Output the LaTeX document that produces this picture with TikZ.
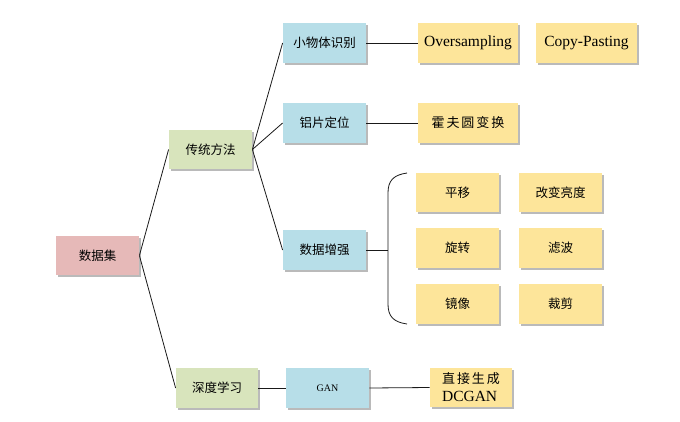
\documentclass[tikz,border=0pt]{standalone}
\usepackage{fontspec}
\setmainfont{Liberation Serif}
\newfontfamily\cjk{Noto Sans CJK SC}
\newfontfamily\cjkwide[LetterSpace=15]{Noto Sans CJK SC}
\usetikzlibrary{shadows}
\tikzset{every picture/.style={line width=0.8pt}}

\definecolor{rootpink}{HTML}{E6B9B8}
\definecolor{levgreen}{HTML}{D8E4BC}
\definecolor{levblue}{HTML}{B7DEE8}
\definecolor{leafyellow}{HTML}{FDE59A}

\tikzset{
  box/.style={minimum width=83pt, minimum height=40pt, inner sep=2pt,
    drop shadow={shadow xshift=2pt, shadow yshift=-2pt, opacity=0.45, fill=black!60},
    font=\cjk\fontsize{12.5}{14}\selectfont},
  rootbox/.style={box, fill=rootpink},
  greenbox/.style={box, fill=levgreen},
  bluebox/.style={box, fill=levblue},
  leafbox/.style={box, fill=leafyellow},
  latinleaf/.style={leafbox, font=\fontsize{15.5}{17}\selectfont},
  link/.style={draw=black!90}
}

\begin{document}
\begin{tikzpicture}[x=1pt, y=-1pt]
    % 画布
    \useasboundingbox (0,0) rectangle (680,421);

    % 根节点与第一层
    \node[rootbox, minimum height=39pt] (data) at (97.5,255.5) {数据集};
    \node[greenbox, minimum height=39pt] (trad) at (210.5,149.5) {传统方法};
    \node[greenbox, minimum width=82pt] (deep) at (217,388) {深度学习};

    % 第二层
    \node[bluebox] (small) at (324.5,43) {小物体识别};
    \node[bluebox] (alum) at (324.5,123) {铝片定位};
    \node[bluebox] (aug) at (324.5,250) {数据增强};
    \node[bluebox, font=\fontsize{10}{12}\selectfont] (gan) at (327.5,388) {GAN};

    % 叶节点
    \node[latinleaf, minimum width=100pt] (over) at (468,43) {Oversampling};
    \node[latinleaf, minimum width=101pt] (copy) at (586.5,43) {Copy-Pasting};
    \node[leafbox, minimum width=100pt, font=\cjkwide\fontsize{13}{15}\selectfont] (hough) at (468,123) {霍夫圆变换};
    \node[leafbox, minimum width=82pt, minimum height=39pt, align=left,
          font=\fontsize{15.5}{18}\selectfont] (dcgan) at (471,387.5)
          {{\cjkwide\fontsize{13}{15}\selectfont 直接生成}\\DCGAN};

    % 数据增强方法
    \node[leafbox, minimum height=39pt] (shift) at (457.5,192.5) {平移};
    \node[leafbox, minimum height=39pt] (bright) at (560.5,192.5) {改变亮度};
    \node[leafbox] (rot) at (457.5,248) {旋转};
    \node[leafbox] (filt) at (560.5,248) {滤波};
    \node[leafbox] (mirror) at (457.5,304) {镜像};
    \node[leafbox] (crop) at (560.5,304) {裁剪};

    % 连线
    \draw[link] (data.east) -- (trad.west);
    \draw[link] (data.east) -- (deep.west);
    \draw[link] (trad.east) -- (small.west);
    \draw[link] (trad.east) -- (alum.west);
    \draw[link] (trad.east) -- (aug.west);
    \draw[link] (small.east) -- (over.west);
    \draw[link] (alum.east) -- (hough.west);
    \draw[link] (deep.east) -- (gan.west);
    \draw[link] (gan.east) -- (dcgan.west);

    % 大括号
    \coordinate (brace) at (388,250);
    \draw[link] (aug.east) -- (brace);
    \draw[link] (407,173) .. controls (393,175) and (388,181) .. (388,193)
        -- (388,304) .. controls (388,316) and (393,322) .. (407,324);
\end{tikzpicture}
\end{document}
